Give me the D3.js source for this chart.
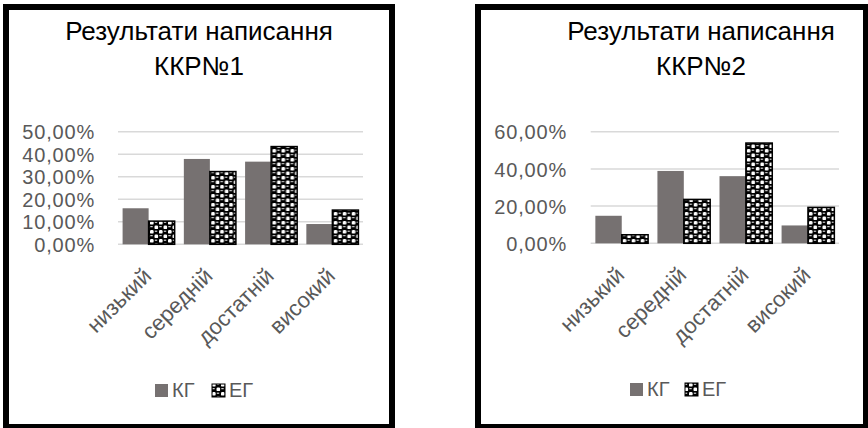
<!DOCTYPE html>
<html>
<head>
<meta charset="utf-8">
<script src="https://cdn.jsdelivr.net/npm/d3@7"></script>
<style>
  html, body { margin: 0; padding: 0; background: #fff; }
  svg { display: block; }
  text { font-family: "Liberation Sans", Arial, sans-serif; }
</style>
</head>
<body>
<svg id="chart" width="868" height="428"></svg>
<script>
// Achievement levels and groups
const categories = ["низький", "середній", "достатній", "високий"];
const seriesNames = ["КГ", "ЕГ"];

// ККР №1 shares per level
const kg1 = [0.160, 0.379, 0.367, 0.090];
const eg1 = [0.103, 0.323, 0.434, 0.152];
const ticks1 = [0, 0.1, 0.2, 0.3, 0.4, 0.5];

// ККР №2 shares per level
const kg2 = [0.148, 0.389, 0.361, 0.096];
const eg2 = [0.046, 0.236, 0.539, 0.193];
const ticks2 = [0, 0.2, 0.4, 0.6];

const titles1 = ["Результати написання", "ККР№1"];
const titles2 = ["Результати написання", "ККР№2"];

const svg = d3.select("#chart");

// Black "sphere" style fill for the ЕГ series
const defs = svg.append("defs");
const pat = defs.append("pattern")
  .attr("id", "sphere")
  .attr("patternUnits", "userSpaceOnUse")
  .attr("width", 9).attr("height", 9);
pat.append("rect").attr("width", 9).attr("height", 9).attr("fill", "#000");
pat.append("rect").attr("x", 0.5).attr("y", 0.5).attr("width", 3.6).attr("height", 3.6).attr("rx", 1.2).attr("fill", "#fff");
pat.append("rect").attr("x", 5).attr("y", 5).attr("width", 3.6).attr("height", 3.6).attr("rx", 1.2).attr("fill", "#fff");
pat.append("rect").attr("x", 5.3).attr("y", 1.2).attr("width", 2.4).attr("height", 1).attr("fill", "#fff");
pat.append("rect").attr("x", 0.8).attr("y", 5.7).attr("width", 2.4).attr("height", 1).attr("fill", "#fff");

const fmt = v => d3.format(".2f")(v * 100).replace(".", ",") + "%";
const kgColor = "#767171";
const labelColor = "#595959";
const labelFont = "'Liberation Sans', Arial, sans-serif";

function drawChart(cfg) {
  const g = svg.append("g");

  // frame
  g.append("rect")
    .attr("x", cfg.frame[0]).attr("y", cfg.frame[1])
    .attr("width", cfg.frame[2]).attr("height", cfg.frame[3])
    .attr("fill", "#fff").attr("stroke", "#000").attr("stroke-width", 6);

  // title
  g.append("text")
    .attr("text-anchor", "middle")
    .attr("font-size", 26)
    .attr("fill", "#000")
    .selectAll("tspan").data(cfg.title).join("tspan")
    .attr("x", cfg.titleX)
    .attr("y", (d, i) => 40 + i * 35)
    .text(d => d);

  const y = d3.scaleLinear().domain([0, cfg.max]).range([cfg.bottom, cfg.top]);
  const x0 = d3.scaleBand().domain(categories).range([cfg.left, cfg.right]);
  const step = x0.step();
  const x1 = d3.scaleBand().domain(seriesNames).range([step * 0.075, step * 0.925]);

  // gridlines
  g.append("g").selectAll("line").data(cfg.ticks).join("line")
    .attr("x1", cfg.left).attr("x2", cfg.right)
    .attr("y1", d => y(d)).attr("y2", d => y(d))
    .attr("stroke", "#d9d9d9").attr("stroke-width", 1.5);

  // value axis labels
  const yAxis = d3.axisLeft(y).tickValues(cfg.ticks).tickFormat(fmt).tickSize(0).tickPadding(0);
  const ya = g.append("g").attr("transform", `translate(${cfg.labelRight},0)`).call(yAxis);
  ya.select(".domain").remove();
  ya.selectAll("text")
    .attr("font-size", 20)
    .attr("letter-spacing", 0.8)
    .attr("fill", labelColor)
    .attr("font-family", labelFont)
    .attr("dy", "0.36em");

  // bars
  const rows = categories.map((c, i) => ({ cat: c, values: [cfg.kg[i], cfg.eg[i]] }));
  const grp = g.append("g").selectAll("g").data(rows).join("g")
    .attr("transform", d => `translate(${x0(d.cat)},0)`);
  grp.selectAll("rect").data(d => d.values.map((v, j) => ({ key: seriesNames[j], v })))
    .join("rect")
    .attr("x", d => x1(d.key))
    .attr("y", d => y(d.v))
    .attr("width", x1.bandwidth())
    .attr("height", d => y(0) - y(d.v))
    .attr("fill", d => d.key === "КГ" ? kgColor : "url(#sphere)")
    .attr("stroke", d => d.key === "КГ" ? "none" : "#000")
    .attr("stroke-width", 1.5);

  // category axis labels
  const xAxis = d3.axisBottom(x0).tickSize(0).tickPadding(0);
  const xa = g.append("g").attr("transform", `translate(0,${cfg.bottom})`).call(xAxis);
  xa.select(".domain").remove();
  xa.selectAll("text")
    .attr("font-size", 22)
    .attr("fill", labelColor)
    .attr("font-family", labelFont)
    .attr("text-anchor", "end")
    .attr("dy", null)
    .attr("y", 0)
    .attr("transform", "translate(4,33) rotate(-45)");

  // legend
  const lg = g.append("g");
  seriesNames.forEach((s, i) => {
    const lx = cfg.legend[i];
    lg.append("rect")
      .attr("x", lx).attr("y", cfg.legendY)
      .attr("width", 13).attr("height", 13)
      .attr("fill", i === 0 ? kgColor : "url(#sphere)")
      .attr("stroke", i === 0 ? "none" : "#000").attr("stroke-width", 1);
    lg.append("text")
      .attr("x", lx + 17).attr("y", cfg.legendY + 13)
      .attr("font-size", 20).attr("fill", labelColor)
      .text(s);
  });
}

drawChart({
  frame: [6, 7, 386, 420], title: titles1, titleX: 199,
  kg: kg1, eg: eg1, ticks: ticks1, max: 0.5,
  left: 118, right: 363, top: 131.7, bottom: 244.3, labelRight: 95,
  legend: [155, 212], legendY: 384
});

drawChart({
  frame: [478, 7, 388, 420], title: titles2, titleX: 701,
  kg: kg2, eg: eg2, ticks: ticks2, max: 0.6,
  left: 590.7, right: 839, top: 131.7, bottom: 243.3, labelRight: 567,
  legend: [630, 685], legendY: 383
});
</script>
</body>
</html>
